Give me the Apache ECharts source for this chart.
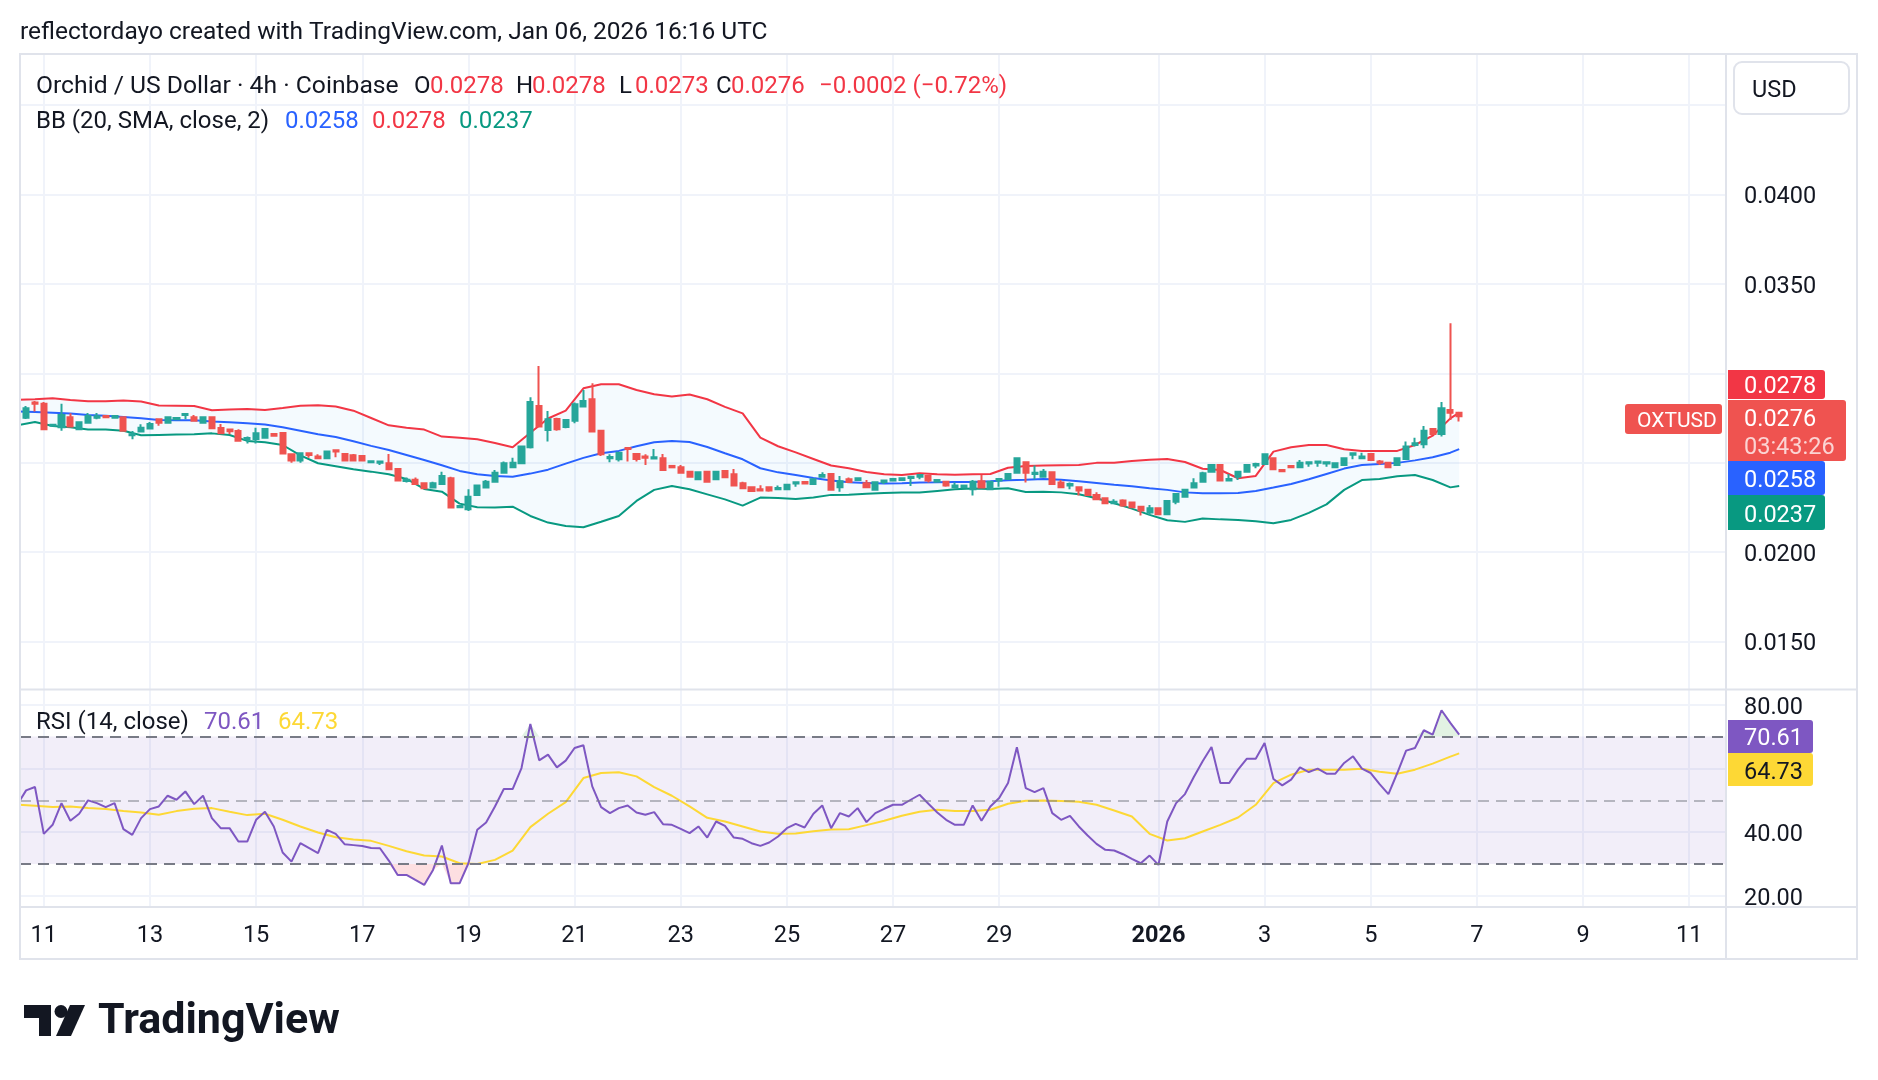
<!DOCTYPE html>
<html>
<head>
<meta charset="utf-8">
<title>OXTUSD 4h</title>
<script src="https://cdn.jsdelivr.net/npm/echarts@6.0.0/dist/echarts.min.js"></script>
<style>
  html, body { margin: 0; padding: 0; background: #ffffff; }
  #chart { width: 1878px; height: 1080px; }
</style>
</head>
<body>
<div id="chart"></div>
<script>
// bar 0 = 2025-12-10 12:00 UTC, one bar = 4h
const barOpen = [
  0.02739, 0.02752, 0.02836, 0.02829, 0.02707, 0.02698, 0.02754, 0.02687, 0.02724, 0.02752,
  0.02761, 0.02752, 0.02754, 0.02653, 0.02674, 0.02691, 0.02743, 0.02724, 0.02743, 0.02767,
  0.02754, 0.02724, 0.02754, 0.02694, 0.02685, 0.02677, 0.02631, 0.02633, 0.02640, 0.02661,
  0.02666, 0.02547, 0.02512, 0.02553, 0.02534, 0.02525, 0.02569, 0.02549, 0.02541, 0.02538,
  0.02502, 0.02500, 0.02497, 0.02465, 0.02398, 0.02405, 0.02385, 0.02361, 0.02381, 0.02413,
  0.02251, 0.02239, 0.02320, 0.02361, 0.02394, 0.02444, 0.02474, 0.02497, 0.02586, 0.02817,
  0.02683, 0.02745, 0.02700, 0.02735, 0.02814, 0.02855, 0.02678, 0.02525, 0.02519, 0.02582,
  0.02549, 0.02534, 0.02523, 0.02525, 0.02482, 0.02474, 0.02450, 0.02407, 0.02450, 0.02407,
  0.02454, 0.02435, 0.02385, 0.02362, 0.02351, 0.02362, 0.02351, 0.02351, 0.02383, 0.02392,
  0.02381, 0.02422, 0.02437, 0.02362, 0.02407, 0.02403, 0.02385, 0.02348, 0.02392, 0.02400,
  0.02403, 0.02415, 0.02422, 0.02426, 0.02394, 0.02394, 0.02362, 0.02362, 0.02351, 0.02396,
  0.02351, 0.02400, 0.02409, 0.02444, 0.02502, 0.02437, 0.02422, 0.02446, 0.02389, 0.02372,
  0.02362, 0.02348, 0.02320, 0.02301, 0.02273, 0.02288, 0.02277, 0.02254, 0.02221, 0.02245,
  0.02211, 0.02282, 0.02310, 0.02361, 0.02394, 0.02450, 0.02487, 0.02400, 0.02422, 0.02450,
  0.02484, 0.02493, 0.02525, 0.02459, 0.02482, 0.02474, 0.02495, 0.02499, 0.02495, 0.02474,
  0.02487, 0.02545, 0.02525, 0.02549, 0.02506, 0.02500, 0.02487, 0.02521, 0.02599, 0.02603,
  0.02689, 0.02661, 0.02795, 0.02780
];
const barClose = [
  0.02767, 0.02804, 0.02829, 0.02687, 0.02712, 0.02767, 0.02702, 0.02726, 0.02761, 0.02760,
  0.02754, 0.02761, 0.02679, 0.02659, 0.02696, 0.02717, 0.02724, 0.02754, 0.02750, 0.02772,
  0.02735, 0.02754, 0.02692, 0.02664, 0.02676, 0.02623, 0.02638, 0.02664, 0.02689, 0.02651,
  0.02551, 0.02512, 0.02553, 0.02543, 0.02525, 0.02562, 0.02562, 0.02512, 0.02512, 0.02512,
  0.02508, 0.02506, 0.02463, 0.02400, 0.02405, 0.02381, 0.02357, 0.02385, 0.02426, 0.02249,
  0.02258, 0.02310, 0.02372, 0.02394, 0.02444, 0.02497, 0.02500, 0.02590, 0.02840, 0.02702,
  0.02743, 0.02687, 0.02739, 0.02827, 0.02845, 0.02674, 0.02547, 0.02532, 0.02556, 0.02577,
  0.02521, 0.02528, 0.02530, 0.02459, 0.02474, 0.02444, 0.02422, 0.02446, 0.02394, 0.02450,
  0.02418, 0.02372, 0.02357, 0.02342, 0.02344, 0.02344, 0.02359, 0.02376, 0.02390, 0.02383,
  0.02407, 0.02431, 0.02348, 0.02396, 0.02392, 0.02413, 0.02362, 0.02390, 0.02400, 0.02409,
  0.02413, 0.02422, 0.02431, 0.02400, 0.02403, 0.02372, 0.02372, 0.02372, 0.02394, 0.02361,
  0.02394, 0.02409, 0.02437, 0.02525, 0.02444, 0.02444, 0.02450, 0.02381, 0.02362, 0.02381,
  0.02344, 0.02320, 0.02295, 0.02273, 0.02282, 0.02260, 0.02251, 0.02232, 0.02245, 0.02211,
  0.02286, 0.02325, 0.02348, 0.02385, 0.02441, 0.02487, 0.02400, 0.02409, 0.02450, 0.02487,
  0.02493, 0.02547, 0.02463, 0.02452, 0.02474, 0.02500, 0.02502, 0.02506, 0.02502, 0.02497,
  0.02525, 0.02553, 0.02534, 0.02515, 0.02500, 0.02474, 0.02525, 0.02590, 0.02609, 0.02678,
  0.02661, 0.02804, 0.02780, 0.02760
];
const barLow = [
  0.02735, 0.02745, 0.02786, 0.02683, 0.02705, 0.02679, 0.02698, 0.02685, 0.02724, 0.02743,
  0.02752, 0.02750, 0.02674, 0.02631, 0.02672, 0.02689, 0.02707, 0.02719, 0.02740, 0.02743,
  0.02733, 0.02722, 0.02690, 0.02661, 0.02659, 0.02623, 0.02608, 0.02608, 0.02638, 0.02649,
  0.02549, 0.02500, 0.02500, 0.02527, 0.02524, 0.02519, 0.02530, 0.02510, 0.02510, 0.02510,
  0.02500, 0.02487, 0.02462, 0.02399, 0.02389, 0.02380, 0.02355, 0.02357, 0.02381, 0.02248,
  0.02245, 0.02230, 0.02318, 0.02360, 0.02393, 0.02444, 0.02472, 0.02496, 0.02579, 0.02698,
  0.02618, 0.02679, 0.02692, 0.02720, 0.02813, 0.02672, 0.02538, 0.02502, 0.02506, 0.02506,
  0.02506, 0.02487, 0.02523, 0.02456, 0.02474, 0.02444, 0.02418, 0.02403, 0.02394, 0.02403,
  0.02413, 0.02372, 0.02353, 0.02338, 0.02344, 0.02338, 0.02351, 0.02351, 0.02366, 0.02383,
  0.02381, 0.02422, 0.02348, 0.02338, 0.02392, 0.02400, 0.02357, 0.02347, 0.02381, 0.02400,
  0.02403, 0.02370, 0.02407, 0.02389, 0.02394, 0.02366, 0.02362, 0.02362, 0.02316, 0.02361,
  0.02351, 0.02366, 0.02409, 0.02444, 0.02389, 0.02407, 0.02418, 0.02376, 0.02362, 0.02351,
  0.02316, 0.02320, 0.02292, 0.02273, 0.02273, 0.02254, 0.02251, 0.02204, 0.02208, 0.02211,
  0.02206, 0.02267, 0.02305, 0.02360, 0.02389, 0.02450, 0.02400, 0.02400, 0.02403, 0.02450,
  0.02469, 0.02493, 0.02463, 0.02452, 0.02474, 0.02474, 0.02478, 0.02478, 0.02478, 0.02474,
  0.02487, 0.02519, 0.02525, 0.02515, 0.02487, 0.02474, 0.02487, 0.02521, 0.02590, 0.02581,
  0.02655, 0.02646, 0.02739, 0.02730
];
const barHigh = [
  0.02772, 0.02817, 0.02845, 0.02840, 0.02714, 0.02829, 0.02776, 0.02728, 0.02778, 0.02778,
  0.02767, 0.02763, 0.02758, 0.02677, 0.02715, 0.02728, 0.02743, 0.02758, 0.02754, 0.02773,
  0.02767, 0.02754, 0.02754, 0.02717, 0.02687, 0.02687, 0.02646, 0.02696, 0.02689, 0.02664,
  0.02666, 0.02547, 0.02556, 0.02553, 0.02547, 0.02566, 0.02569, 0.02551, 0.02549, 0.02539,
  0.02509, 0.02507, 0.02549, 0.02466, 0.02417, 0.02417, 0.02386, 0.02394, 0.02450, 0.02422,
  0.02264, 0.02351, 0.02373, 0.02403, 0.02459, 0.02506, 0.02528, 0.02594, 0.02866, 0.03041,
  0.02789, 0.02752, 0.02745, 0.02836, 0.02907, 0.02944, 0.02678, 0.02547, 0.02556, 0.02582,
  0.02553, 0.02547, 0.02577, 0.02549, 0.02482, 0.02487, 0.02454, 0.02450, 0.02450, 0.02454,
  0.02454, 0.02465, 0.02394, 0.02362, 0.02374, 0.02362, 0.02372, 0.02376, 0.02390, 0.02398,
  0.02407, 0.02446, 0.02437, 0.02426, 0.02417, 0.02417, 0.02403, 0.02390, 0.02400, 0.02409,
  0.02413, 0.02422, 0.02431, 0.02426, 0.02403, 0.02394, 0.02389, 0.02372, 0.02403, 0.02431,
  0.02394, 0.02409, 0.02441, 0.02525, 0.02502, 0.02484, 0.02465, 0.02446, 0.02403, 0.02389,
  0.02362, 0.02348, 0.02335, 0.02301, 0.02295, 0.02295, 0.02282, 0.02254, 0.02264, 0.02245,
  0.02286, 0.02325, 0.02351, 0.02413, 0.02450, 0.02488, 0.02487, 0.02437, 0.02454, 0.02488,
  0.02500, 0.02547, 0.02525, 0.02460, 0.02487, 0.02515, 0.02502, 0.02506, 0.02502, 0.02497,
  0.02525, 0.02553, 0.02556, 0.02553, 0.02515, 0.02500, 0.02525, 0.02618, 0.02640, 0.02705,
  0.02692, 0.02840, 0.03280, 0.02780
];

// Bollinger Bands (20, SMA, close, 2), read at these bars
const bandBars = [
  0, 2, 4, 6, 8, 10, 12, 14, 16, 18, 20, 22, 24, 26, 28, 30, 32, 34, 36, 38,
  40, 42, 44, 46, 48, 50, 52, 54, 56, 58, 60, 62, 64, 66, 68, 70, 72, 74, 76, 78,
  80, 82, 84, 86, 88, 90, 92, 94, 96, 98, 100, 102, 104, 106, 108, 110, 112, 114, 116, 118,
  120, 122, 124, 126, 128, 130, 132, 134, 136, 138, 140, 142, 144, 146, 148, 150, 152, 154, 156, 158,
  160, 162, 163
];
const bbUpper = [
  0.02851, 0.02855, 0.02860, 0.02851, 0.02844, 0.02843, 0.02848, 0.02842, 0.02820, 0.02819,
  0.02817, 0.02793, 0.02797, 0.02801, 0.02795, 0.02806, 0.02819, 0.02821, 0.02814, 0.02791,
  0.02750, 0.02709, 0.02696, 0.02685, 0.02646, 0.02640, 0.02631, 0.02610, 0.02586, 0.02668,
  0.02747, 0.02791, 0.02916, 0.02939, 0.02939, 0.02907, 0.02883, 0.02870, 0.02881, 0.02855,
  0.02812, 0.02776, 0.02640, 0.02592, 0.02558, 0.02521, 0.02484, 0.02469, 0.02448, 0.02435,
  0.02431, 0.02441, 0.02435, 0.02433, 0.02435, 0.02437, 0.02472, 0.02482, 0.02484, 0.02486,
  0.02487, 0.02499, 0.02500, 0.02510, 0.02517, 0.02521, 0.02504, 0.02466, 0.02459, 0.02413,
  0.02426, 0.02562, 0.02586, 0.02599, 0.02599, 0.02575, 0.02566, 0.02566, 0.02566, 0.02599,
  0.02651, 0.02748, 0.02780
];
const bbBasis = [
  0.02786, 0.02784, 0.02780, 0.02775, 0.02767, 0.02763, 0.02756, 0.02748, 0.02739, 0.02737,
  0.02738, 0.02730, 0.02726, 0.02720, 0.02713, 0.02698, 0.02679, 0.02659, 0.02644, 0.02620,
  0.02594, 0.02571, 0.02543, 0.02515, 0.02486, 0.02454, 0.02435, 0.02425, 0.02422, 0.02439,
  0.02461, 0.02495, 0.02527, 0.02553, 0.02566, 0.02592, 0.02614, 0.02622, 0.02616, 0.02588,
  0.02553, 0.02519, 0.02469, 0.02446, 0.02431, 0.02415, 0.02400, 0.02390, 0.02387, 0.02383,
  0.02385, 0.02389, 0.02390, 0.02392, 0.02392, 0.02396, 0.02402, 0.02405, 0.02409, 0.02405,
  0.02396, 0.02387, 0.02377, 0.02368, 0.02357, 0.02348, 0.02334, 0.02329, 0.02329, 0.02331,
  0.02342, 0.02361, 0.02381, 0.02407, 0.02437, 0.02467, 0.02487, 0.02493, 0.02499, 0.02513,
  0.02530, 0.02556, 0.02576
];
const bbLower = [
  0.02709, 0.02728, 0.02705, 0.02698, 0.02686, 0.02685, 0.02679, 0.02653, 0.02655, 0.02657,
  0.02659, 0.02664, 0.02655, 0.02622, 0.02614, 0.02599, 0.02541, 0.02497, 0.02480, 0.02463,
  0.02450, 0.02435, 0.02409, 0.02353, 0.02338, 0.02271, 0.02251, 0.02249, 0.02254, 0.02202,
  0.02165, 0.02146, 0.02139, 0.02170, 0.02202, 0.02286, 0.02348, 0.02370, 0.02351, 0.02323,
  0.02295, 0.02260, 0.02305, 0.02303, 0.02297, 0.02305, 0.02320, 0.02321, 0.02327, 0.02331,
  0.02333, 0.02333, 0.02342, 0.02351, 0.02355, 0.02353, 0.02357, 0.02336, 0.02338, 0.02334,
  0.02323, 0.02301, 0.02273, 0.02243, 0.02208, 0.02178, 0.02169, 0.02188, 0.02183, 0.02180,
  0.02172, 0.02161, 0.02180, 0.02219, 0.02267, 0.02348, 0.02403, 0.02409, 0.02424, 0.02431,
  0.02403, 0.02362, 0.02370
];

// RSI (14, close), one value per bar
const rsiValues = [
  48.58, 53.10, 54.15, 39.45, 42.28, 49.11, 43.54, 45.75, 49.95, 49.11,
  47.85, 49.11, 40.92, 39.13, 44.38, 47.22, 48.06, 51.42, 50.16, 52.78,
  48.79, 51.42, 44.38, 41.23, 41.23, 37.03, 37.03, 43.86, 46.38, 41.76,
  33.57, 30.73, 36.51, 34.93, 33.36, 40.71, 39.45, 36.20, 35.90, 35.60,
  35.00, 34.93, 31.05, 26.54, 26.54, 24.96, 23.39, 28.11, 35.77, 23.91,
  23.91, 30.21, 40.71, 43.02, 48.06, 53.52, 53.52, 60.13, 73.99, 62.55,
  64.33, 60.34, 62.44, 66.43, 67.27, 54.36, 47.85, 45.96, 47.53, 48.37,
  46.17, 45.43, 46.27, 42.49, 42.28, 41.02, 39.66, 41.76, 38.29, 43.33,
  41.97, 38.29, 37.87, 36.51, 35.67, 36.72, 38.61, 41.23, 42.60, 41.44,
  45.75, 48.37, 41.23, 45.96, 44.91, 47.53, 43.12, 45.96, 47.32, 48.58,
  48.58, 50.16, 51.73, 48.90, 46.17, 43.86, 42.28, 42.28, 48.37, 43.54,
  48.06, 50.68, 55.41, 66.64, 53.83, 52.57, 53.83, 45.96, 43.86, 45.12,
  41.76, 38.92, 36.30, 34.41, 34.20, 33.04, 31.57, 30.21, 32.62, 29.68,
  43.33, 49.11, 51.94, 57.30, 62.23, 66.75, 55.41, 55.41, 59.61, 63.07,
  63.07, 68.01, 56.67, 54.67, 56.46, 60.34, 58.87, 59.92, 58.35, 58.35,
  61.71, 63.81, 59.92, 58.56, 55.09, 51.94, 58.56, 65.59, 66.43, 71.99,
  70.63, 78.29, 74.30, 70.61
];
// RSI-based SMA, read at bandBars
const rsiAverage = [
  48.58, 48.27, 47.85, 48.06, 47.53, 47.22, 46.59, 46.17, 45.43, 46.59,
  47.32, 47.53, 46.38, 45.33, 45.75, 43.86, 41.76, 39.87, 38.40, 37.66,
  37.24, 35.67, 33.99, 32.62, 32.31, 30.21, 30.00, 31.26, 34.20, 41.55,
  45.75, 49.42, 56.98, 58.56, 58.77, 57.51, 54.15, 51.42, 48.06, 44.49,
  43.33, 41.76, 40.18, 39.45, 39.55, 40.29, 40.81, 40.92, 42.18, 43.54,
  45.12, 46.38, 47.01, 46.59, 46.59, 47.01, 48.90, 49.84, 49.95, 49.74,
  49.53, 48.58, 46.80, 44.91, 39.45, 37.35, 38.08, 40.18, 42.28, 44.59,
  48.58, 55.41, 58.03, 59.61, 59.61, 59.61, 59.92, 58.98, 58.35, 59.61,
  61.50, 63.70, 64.73
];

// time axis: days after Dec 11 and their labels
const tickDays = [0, 2, 4, 6, 8, 10, 12, 14, 16, 18, 21, 23, 25, 27, 29, 31];
const tickLabels = ['11', '13', '15', '17', '19', '21', '23', '25', '27', '29', '2026', '3', '5', '7', '9', '11'];
const priceGrid = [0.015, 0.02, 0.025, 0.03, 0.035, 0.04, 0.045];
const priceLabels = [0.015, 0.02, 0.035, 0.04];
const rsiGrid = [20, 40, 60, 80];
const rsiLabels = [20, 40, 80];

const tickBars = tickDays.map(d => 3 + 6 * d);
const barIndex = rsiValues.map((v, i) => i);

const FONT = 'Roboto';
const INK = '#131722';
const UP = '#26a69a';
const DOWN = '#ef5350';
const last = barClose.length - 1;

const fmt4 = v => v.toFixed(4);
const change = barClose[last] - barClose[last - 1];
const changePct = change / barClose[last - 1] * 100;
const sign = change < 0 ? '\u2212' : '+';

function text(x, y, str, color, size, weight) {
  return {
    type: 'text', x: x, y: y + 3, z: 100,
    style: { text: str, fill: color, fontSize: size || 24, fontFamily: FONT, fontWeight: weight || 'normal', verticalAlign: 'middle' }
  };
}
function box(x, y, w, h, color) {
  return { type: 'rect', z: 99, shape: { x: x, y: y, width: w, height: h, r: [0, 3, 3, 0] }, style: { fill: color } };
}
function rule(x1, y1, x2, y2) {
  return { type: 'line', z: 98, shape: { x1: x1, y1: y1, x2: x2, y2: y2 }, style: { stroke: '#e0e3eb', lineWidth: 2 } };
}
const pairs = (xs, ys) => xs.map((x, k) => [x, ys[k]]);

// filled region between two value lists, drawn through the axis scales
function fillBetween(axisIdx, xs, top, bottom, fill, z) {
  return {
    type: 'custom', xAxisIndex: axisIdx, yAxisIndex: axisIdx, silent: true, z: z,
    data: [[xs[0], top[0]]],
    renderItem: (params, api) => {
      const upper = xs.map((x, k) => api.coord([x, top[k]]));
      const lower = xs.map((x, k) => api.coord([x, bottom[k]])).reverse();
      const cs = params.coordSys;
      return {
        type: 'polygon',
        shape: { points: upper.concat(lower) },
        style: { fill: fill },
        clipPath: { type: 'rect', shape: { x: cs.x, y: cs.y, width: cs.width, height: cs.height } }
      };
    }
  };
}

const chart = echarts.init(document.getElementById('chart'));

const gridLine = { show: true, lineStyle: { color: '#f0f3fa', width: 2 } };
const xBase = {
  type: 'value', min: 0.31, max: 193.16,
  axisLine: { show: false },
  axisTick: { show: false, customValues: tickBars },
  splitLine: gridLine
};
// price-scale label text sits a little below its grid line, as in the source
const scaleLabel = { margin: 18, verticalAlign: 'top', lineHeight: 6, color: INK, fontSize: 23.5, fontFamily: FONT };

const option = {
  animation: false,
  backgroundColor: '#ffffff',
  grid: [
    { left: 20, top: 54, width: 1706, height: 635.5 },
    { left: 20, top: 689.5, width: 1706, height: 217.5 }
  ],
  xAxis: [
    Object.assign({}, xBase, { gridIndex: 0, axisLabel: { show: false, customValues: tickBars } }),
    Object.assign({}, xBase, {
      gridIndex: 1,
      axisLabel: {
        customValues: tickBars,
        margin: 17,
        color: INK, fontSize: 23.5, fontFamily: FONT,
        formatter: v => {
          const s = tickLabels[tickBars.indexOf(v)] || '';
          return s === '2026' ? '{b|' + s + '}' : s;
        },
        rich: { b: { color: INK, fontSize: 23.5, fontFamily: FONT, fontWeight: 'bold' } }
      }
    })
  ],
  yAxis: [
    {
      gridIndex: 0, type: 'value', position: 'right', min: 0.012315, max: 0.047858,
      axisLine: { show: false },
      axisTick: { show: false, customValues: priceGrid },
      axisLabel: Object.assign({ customValues: priceLabels, formatter: v => v.toFixed(4) }, scaleLabel),
      splitLine: gridLine
    },
    {
      gridIndex: 1, type: 'value', position: 'right', min: 16.46, max: 84.8,
      axisLine: { show: false },
      axisTick: { show: false, customValues: rsiGrid },
      axisLabel: Object.assign({ customValues: rsiLabels, formatter: v => v.toFixed(2) }, scaleLabel),
      splitLine: gridLine
    }
  ],
  series: [
    fillBetween(0, bandBars, bbUpper, bbLower, 'rgba(33,150,243,0.05)', 1),
    {
      type: 'line', xAxisIndex: 0, yAxisIndex: 0, symbol: 'none', silent: true, z: 2,
      data: pairs(bandBars, bbUpper), lineStyle: { color: '#f23645', width: 2 }
    },
    {
      type: 'line', xAxisIndex: 0, yAxisIndex: 0, symbol: 'none', silent: true, z: 2,
      data: pairs(bandBars, bbBasis), lineStyle: { color: '#2962ff', width: 2 }
    },
    {
      type: 'line', xAxisIndex: 0, yAxisIndex: 0, symbol: 'none', silent: true, z: 2,
      data: pairs(bandBars, bbLower), lineStyle: { color: '#089981', width: 2 }
    },
    {
      type: 'candlestick', xAxisIndex: 0, yAxisIndex: 0, z: 3,
      data: barOpen.map((o, i) => [i, o, barClose[i], barLow[i], barHigh[i]]),
      encode: { x: 0, y: [1, 2, 3, 4] },
      barWidth: 5.6,
      itemStyle: { color: UP, color0: DOWN, borderColor: UP, borderColor0: DOWN, borderWidth: 2 }
    },
    fillBetween(1, barIndex, rsiValues.map(v => Math.max(v, 70)), rsiValues.map(() => 70), 'rgba(76,175,80,0.16)', 1),
    fillBetween(1, barIndex, rsiValues.map(() => 30), rsiValues.map(v => Math.min(v, 30)), 'rgba(242,54,69,0.16)', 1),
    {
      type: 'line', xAxisIndex: 1, yAxisIndex: 1, symbol: 'none', silent: true, z: 3,
      data: pairs(barIndex, rsiValues),
      lineStyle: { color: '#7e57c2', width: 2 },
      markArea: {
        silent: true,
        itemStyle: { color: 'rgba(126,87,194,0.1)' },
        data: [[{ yAxis: 30 }, { yAxis: 70 }]]
      },
      markLine: {
        silent: true, symbol: ['none', 'none'], label: { show: false },
        lineStyle: { color: '#787b86', width: 2, type: [11, 7] },
        data: [
          { yAxis: 70 },
          { yAxis: 50, lineStyle: { color: 'rgba(120,123,134,0.5)', width: 2, type: [11, 7] } },
          { yAxis: 30 }
        ]
      }
    },
    {
      type: 'line', xAxisIndex: 1, yAxisIndex: 1, symbol: 'none', silent: true, z: 2,
      data: pairs(bandBars, rsiAverage),
      lineStyle: { color: '#fdd835', width: 2 }
    }
  ],
  graphic: [
    // frame
    { type: 'rect', z: 98, shape: { x: 20, y: 54, width: 1837, height: 905 }, style: { fill: 'none', stroke: '#e0e3eb', lineWidth: 2 } },
    rule(1726, 54, 1726, 959),
    rule(20, 689.5, 1857, 689.5),
    rule(20, 907, 1857, 907),

    text(20, 30, 'reflectordayo created with TradingView.com, Jan 06, 2026 16:16 UTC', INK, 24.5),

    // legends
    text(36, 84, 'Orchid / US Dollar \u00b7 4h \u00b7 Coinbase', INK, 24.7),
    text(414, 84, 'O', INK), text(430, 84, fmt4(barOpen[last]), '#f23645'),
    text(516, 84, 'H', INK), text(532, 84, fmt4(barHigh[last]), '#f23645'),
    text(619, 84, 'L', INK), text(635, 84, fmt4(barLow[last]), '#f23645'),
    text(716, 84, 'C', INK), text(731, 84, fmt4(barClose[last]), '#f23645'),
    text(819, 84, sign + fmt4(Math.abs(change)) + ' (' + sign + Math.abs(changePct).toFixed(2) + '%)', '#f23645'),
    text(36, 118.5, 'BB (20, SMA, close, 2)', INK),
    text(285, 118.5, fmt4(bbBasis[bbBasis.length - 1]), '#2962ff'),
    text(372, 118.5, fmt4(bbUpper[bbUpper.length - 1]), '#f23645'),
    text(459, 118.5, fmt4(bbLower[bbLower.length - 1]), '#089981'),
    text(36, 720, 'RSI (14, close)', INK),
    text(204, 720, rsiValues[last].toFixed(2), '#7e57c2'),
    text(278, 720, rsiAverage[rsiAverage.length - 1].toFixed(2), '#fdd835'),

    // currency button
    { type: 'rect', z: 99, shape: { x: 1734, y: 62, width: 115, height: 52, r: 8 }, style: { fill: '#ffffff', stroke: '#e0e3eb', lineWidth: 2 } },
    text(1752, 88, 'USD', INK, 23.5),

    // price scale labels
    box(1728, 370, 97, 29, '#f23645'),
    text(1744, 384, fmt4(bbUpper[bbUpper.length - 1]), '#ffffff', 23.5),
    box(1728, 400, 118, 61, '#ef5350'),
    text(1744, 417, fmt4(barClose[last]), '#ffffff', 23.5),
    text(1744, 445, '03:43:26', 'rgba(255,255,255,0.75)', 23.5),
    box(1728, 461, 97, 34, '#2962ff'),
    text(1744, 478, fmt4(bbBasis[bbBasis.length - 1]), '#ffffff', 23.5),
    box(1728, 495, 97, 35, '#089981'),
    text(1744, 513, fmt4(bbLower[bbLower.length - 1]), '#ffffff', 23.5),
    { type: 'rect', z: 99, shape: { x: 1625, y: 404, width: 97, height: 30, r: 3 }, style: { fill: '#ef5350' } },
    text(1637, 419, 'OXTUSD', '#ffffff', 21),
    box(1728, 720, 85, 33, '#7e57c2'),
    text(1744, 736.5, rsiValues[last].toFixed(2), '#ffffff', 23.5),
    box(1728, 753, 85, 33, '#fdd835'),
    text(1744, 770, rsiAverage[rsiAverage.length - 1].toFixed(2), INK, 23.5),

    // TradingView logo
    { type: 'rect', z: 100, shape: { x: 24, y: 1005, width: 27, height: 13 }, style: { fill: INK } },
    { type: 'rect', z: 100, shape: { x: 39, y: 1005, width: 12, height: 31 }, style: { fill: INK } },
    { type: 'circle', z: 100, shape: { cx: 61, cy: 1011.5, r: 6.5 }, style: { fill: INK } },
    { type: 'polygon', z: 100, shape: { points: [[56, 1036], [70, 1005], [85, 1005], [71, 1036]] }, style: { fill: INK } },
    text(98, 1019, 'TradingView', INK, 43, 'bold')
  ]
};

chart.setOption(option);
</script>
</body>
</html>
